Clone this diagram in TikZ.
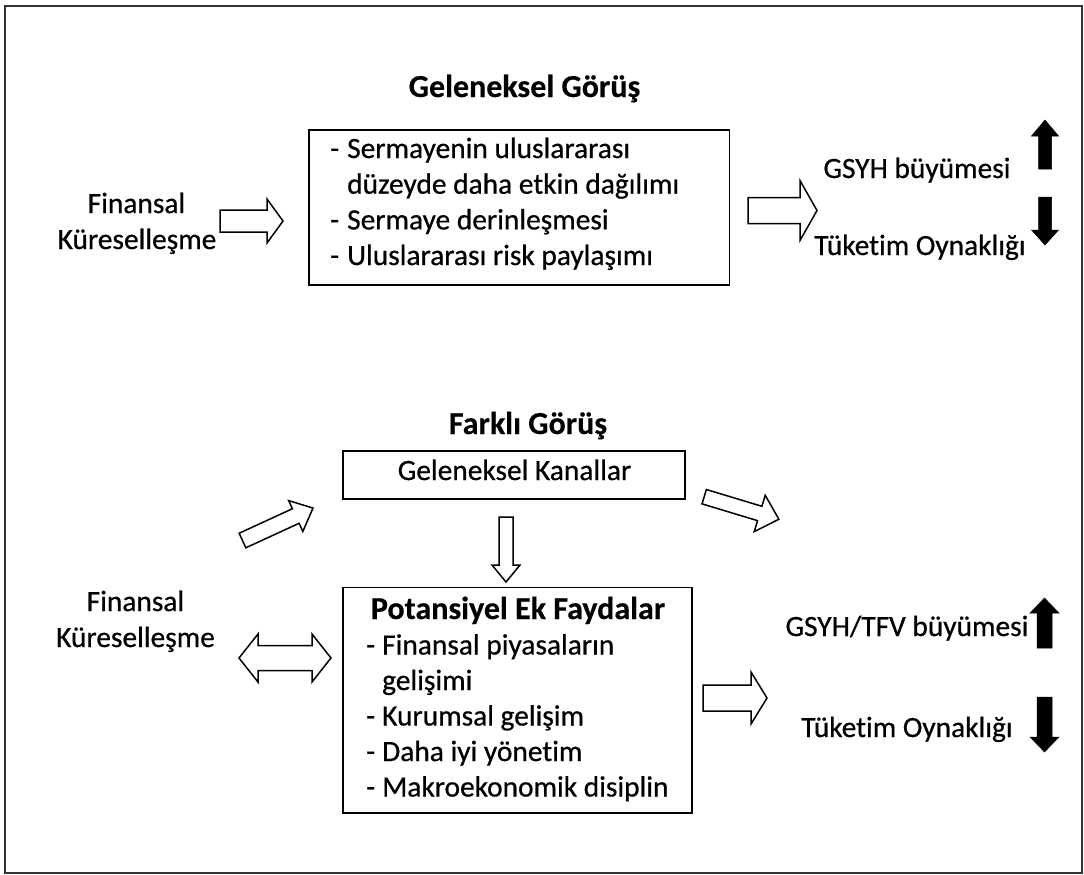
\documentclass[tikz,border=0pt]{standalone}
\usepackage{fontspec}
\setmainfont{Carlito}
\newfontfamily\regfont{Carlito}[FakeBold=0.6,Ligatures=NoCommon]
\newfontfamily\boldfont{Carlito Bold}[FakeBold=0.3,Ligatures=NoCommon]
\usetikzlibrary{calc}
\newcommand\blkarrow[7][hollowarrow]{%
  \draw[#1,shift={(#2)},rotate=#3] (0,-#6) -- ({#4-#5},-#6) -- ({#4-#5},-#7) -- (#4,0)
    -- ({#4-#5},#7) -- ({#4-#5},#6) -- (0,#6) -- cycle;}
\tikzset{
  txt/.style={font=\regfont\fontsize{29.4}{35.7}\selectfont, inner sep=0pt},
  ttl/.style={font=\boldfont\fontsize{32}{38}\selectfont, inner sep=0pt},
  box/.style={draw=black, line width=1.9pt, inner sep=0pt},
  hollowarrow/.style={draw=black, fill=white, line width=1.5pt, line join=miter},
  solidarrow/.style={draw=black, fill=black, line width=0.5pt}
}
\begin{document}
\begin{tikzpicture}[x=1pt,y=-1pt]
\useasboundingbox (0,0) rectangle (1084,875);
\fill[white] (0,0) rectangle (1084,875);
\draw[gray!40!black, line width=1.5pt] (5,6) rectangle (1082,873);

% ---------- upper part ----------
\node[ttl, anchor=base] (t1) at (524.5,97) {Geleneksel Görüş};
\node[box, minimum width=420.5pt, minimum height=155.5pt] (b1) at (519.25,207.5) {};
\node[txt, anchor=base west] (b1l1) at (330,158) {-};
\node[txt, anchor=base west] (b1t1) at (347,158) {Sermayenin uluslararası};
\node[txt, anchor=base west] (b1t2) at (347,193.7) {düzeyde daha etkin dağılımı};
\node[txt, anchor=base west] (b1l3) at (330,229.4) {-};
\node[txt, anchor=base west] (b1t3) at (347,229.4) {Sermaye derinleşmesi};
\node[txt, anchor=base west] (b1l4) at (330,265) {-};
\node[txt, anchor=base west] (b1t4) at (347,265) {Uluslararası risk paylaşımı};

\node[txt, anchor=base] (f1a) at (136.5,213) {Finansal};
\node[txt, anchor=base] (f1b) at (137,249) {Küreselleşme};

\node[txt, anchor=base] (g1) at (917,178) {GSYH büyümesi};
\node[txt, anchor=base] (k1) at (920,255) {Tüketim Oynaklığı};

\coordinate (a1) at (220,221);
\coordinate (a2) at (748,210.5);
\blkarrow{a1}{0}{63}{16}{11}{22}
\blkarrow{a2}{0}{69}{17}{13}{30}
\coordinate (u1) at (1045,169);
\coordinate (d1) at (1045,197);
\blkarrow[solidarrow]{u1}{90}{49}{16}{6.5}{13.5}
\blkarrow[solidarrow]{d1}{-90}{48}{15}{6.5}{13.5}

% ---------- lower part ----------
\node[ttl, anchor=base] (t2) at (528,434) {Farklı Görüş};
\node[box, minimum width=342.5pt, minimum height=48pt] (b2) at (514,475) {};
\node[txt, anchor=base] (b2t) at (514.5,480) {Geleneksel Kanallar};

\node[box, minimum width=349pt, minimum height=225.5pt] (b3) at (517.5,700.25) {};
\node[ttl, anchor=base] (b3h) at (518,619) {Potansiyel Ek Faydalar};
\node[txt, anchor=base west] (b3l1) at (366,654.5) {-};
\node[txt, anchor=base west] (b3t1) at (382,654.5) {Finansal piyasaların};
\node[txt, anchor=base west] (b3t2) at (382,690) {gelişimi};
\node[txt, anchor=base west] (b3l3) at (366,725.5) {-};
\node[txt, anchor=base west] (b3t3) at (382,725.5) {Kurumsal gelişim};
\node[txt, anchor=base west] (b3l4) at (366,761) {-};
\node[txt, anchor=base west] (b3t4) at (382,761) {Daha iyi yönetim};
\node[txt, anchor=base west] (b3l5) at (366,796.5) {-};
\node[txt, anchor=base west] (b3t5) at (382,796.5) {Makroekonomik disiplin};

\node[txt, anchor=base] (f2a) at (135.5,611) {Finansal};
\node[txt, anchor=base] (f2b) at (135.5,647) {Küreselleşme};

\node[txt, anchor=base] (g2) at (907,636) {GSYH/TFV büyümesi};
\node[txt, anchor=base] (k2) at (907,737) {Tüketim Oynaklığı};

\coordinate (a3) at (242.5,540.5);
\coordinate (a4) at (704.2,496.7);
\coordinate (a5) at (506,517);
\coordinate (a6) at (703,698);
\blkarrow{a3}{24.7}{77.6}{19}{8}{17}
\blkarrow{a4}{-16.8}{78}{20}{7.5}{19}
\blkarrow{a5}{-90}{65}{17}{7}{14}
\blkarrow{a6}{0}{64}{16}{13}{26}

% double arrow
\coordinate (dl) at (239,658);
\coordinate (dr) at (331,658);
\draw[hollowarrow] (dl) -- ++(19,-24) -- ++(0,11.5) -- ($(dr)+(-19,-12.5)$) -- ++(0,-11.5) -- (dr)
  -- ++(-19,24) -- ++(0,-11.5) -- ($(dl)+(19,12.5)$) -- ++(0,11.5) -- cycle;

\coordinate (u2) at (1044.5,648);
\coordinate (d2) at (1044.5,697);
\blkarrow[solidarrow]{u2}{90}{50}{15}{7.5}{14.5}
\blkarrow[solidarrow]{d2}{-90}{55}{15}{7.5}{14.5}
\end{tikzpicture}
\end{document}
